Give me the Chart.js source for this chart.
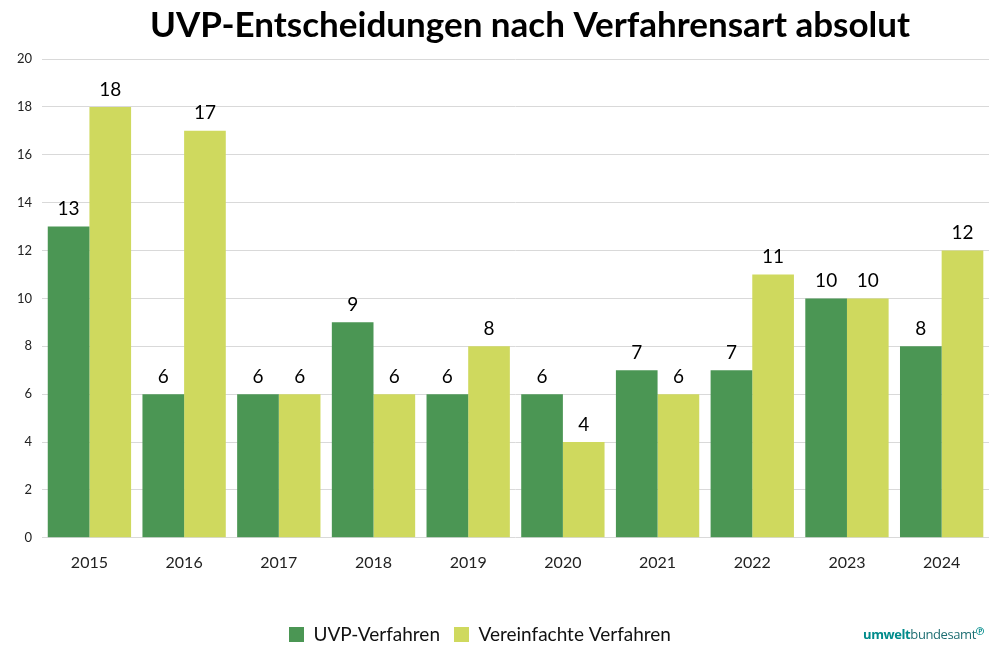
<!DOCTYPE html>
<html>
<head>
<meta charset="utf-8">
<script src="https://cdn.jsdelivr.net/npm/chart.js@4"></script>
<style>
  html, body { margin: 0; padding: 0; background: #fff; }
  #wrap { position: relative; width: 996px; height: 667px; }
  #logo { position: absolute; left: 863px; top: 625px; font-family: "Open Sans", sans-serif; font-size: 13px; color: #1f6f73; letter-spacing: -0.4px; }
  #logo b { color: #008b8b; font-weight: 700; }
  #logo sup { font-size: 8px; color: #008b8b; font-weight: 700; }
</style>
</head>
<body>
<div id="wrap">
  <canvas id="uvpChart" width="996" height="667"></canvas>
  <div id="logo"><b>umwelt</b>bundesamt<sup>&#9413;</sup></div>
</div>
<script>
const years = ["2015","2016","2017","2018","2019","2020","2021","2022","2023","2024"];
const uvpVerfahren = [13,6,6,9,6,6,7,7,10,8];
const vereinfachteVerfahren = [18,17,6,6,8,4,6,11,10,12];
const yTicks = [0,2,4,6,8,10,12,14,16,18,20];
const chartTitle = "UVP-Entscheidungen nach Verfahrensart absolut";

// bar values above each bar
const valueLabels = {
  id: "valueLabels",
  afterDatasetsDraw(chart) {
    const ctx = chart.ctx;
    ctx.save();
    ctx.font = "19px Lato";
    ctx.fillStyle = "#000";
    ctx.textAlign = "center";
    ctx.textBaseline = "bottom";
    chart.data.datasets.forEach((ds, i) => {
      chart.getDatasetMeta(i).data.forEach((bar, j) => {
        ctx.fillText(ds.data[j], bar.x, bar.y - 8);
      });
    });
    ctx.restore();
  }
};

// title sits a bit right of the canvas centre in the original
const titleText = {
  id: "titleText",
  afterDraw(chart) {
    const ctx = chart.ctx;
    ctx.save();
    ctx.font = "bold 35px Lato";
    ctx.fillStyle = "#000";
    ctx.textAlign = "center";
    ctx.textBaseline = "middle";
    ctx.fillText(chartTitle, 530, 26);
    ctx.restore();
  }
};

// legend in the original is a little left of centre
const legendShift = {
  id: "legendShift",
  afterLayout(chart) {
    chart.legend.left -= 18;
    chart.legend.right -= 18;
  }
};

new Chart(document.getElementById("uvpChart"), {
  type: "bar",
  data: {
    labels: years,
    datasets: [
      {
        label: "UVP-Verfahren",
        data: uvpVerfahren,
        backgroundColor: "#4b9654"
      },
      {
        label: "Vereinfachte Verfahren",
        data: vereinfachteVerfahren,
        backgroundColor: "#cfd95e"
      }
    ]
  },
  options: {
    responsive: false,
    animation: false,
    layout: { padding: { left: 7, right: 7, top: 59, bottom: 13 } },
    datasets: { bar: { categoryPercentage: 0.88, barPercentage: 1.0 } },
    scales: {
      x: {
        grid: { display: false },
        border: { display: false },
        ticks: { color: "#222", font: { family: "Lato", size: 16 }, padding: 7 },
        afterFit(axis) { axis.height += 32; }
      },
      y: {
        min: 0,
        max: 20,
        afterBuildTicks(axis) { axis.ticks = yTicks.map(v => ({ value: v })); },
        grid: { color: "#d9d9d9", drawTicks: false },
        border: { display: false },
        ticks: { color: "#222", font: { family: "Lato", size: 13 }, padding: 10 }
      }
    },
    plugins: {
      title: { display: false },
      legend: {
        position: "bottom",
        labels: {
          color: "#111",
          font: { family: "Lato", size: 19 },
          boxWidth: 15,
          boxHeight: 15,
          padding: 14
        }
      },
      tooltip: { enabled: false }
    }
  },
  plugins: [valueLabels, titleText, legendShift]
});
</script>
</body>
</html>
